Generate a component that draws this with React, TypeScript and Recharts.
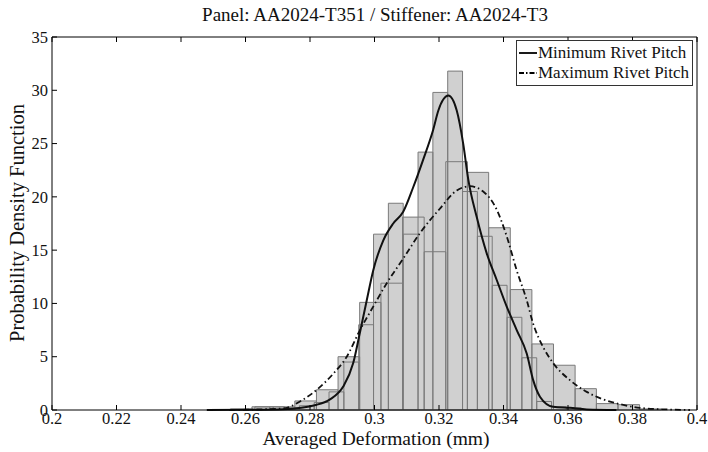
import React from 'react';
import { ComposedChart, Line, XAxis, YAxis, ReferenceArea, Label, Legend } from 'recharts';

const titleText = 'Panel: AA2024-T351 / Stiffener: AA2024-T3';
const xLabel = 'Averaged Deformation (mm)';
const yLabel = 'Probability Density Function';
const seriesNames = ['Minimum Rivet Pitch', 'Maximum Rivet Pitch'];

const xTicks = [0.2, 0.22, 0.24, 0.26, 0.28, 0.3, 0.32, 0.34, 0.36, 0.38, 0.4];
const yTicks = [0, 5, 10, 15, 20, 25, 30, 35];

// Histogram: Minimum Rivet Pitch (bin edges, heights)
const minBinEdges = [0.2629, 0.2675, 0.2721, 0.2767, 0.2813, 0.2859, 0.2905, 0.2951, 0.2997, 0.3043, 0.3089, 0.3135, 0.3181, 0.3227, 0.3273, 0.3319, 0.3365, 0.3411, 0.3457, 0.3503, 0.3549, 0.3595, 0.3641];
const minBinValues = [0.3, 0.3, 0.2, 0.4, 0.7, 1.7, 4.5, 8.0, 16.5, 19.4, 16.5, 24.2, 29.8, 31.8, 20.5, 16.3, 11.7, 8.7, 4.9, 0.8, 0.3, 0.2];

// Histogram: Maximum Rivet Pitch
const maxBinEdges = [0.2553, 0.262, 0.2686, 0.2753, 0.282, 0.2887, 0.2954, 0.302, 0.3087, 0.3154, 0.3221, 0.3288, 0.3354, 0.3421, 0.3488, 0.3555, 0.3622, 0.3688, 0.3755, 0.3822, 0.3889];
const maxBinValues = [0.1, 0.3, 0.3, 0.85, 1.9, 5.0, 10.1, 11.9, 18.1, 14.85, 23.3, 22.3, 17.1, 11.3, 6.2, 4.2, 2.0, 0.6, 0.5, 0.1];

// PDF curve: Minimum Rivet Pitch
const minCurveX = [0.248, 0.2614, 0.2716, 0.2821, 0.2862, 0.2903, 0.2934, 0.2955, 0.2976, 0.2996, 0.3027, 0.3058, 0.3089, 0.312, 0.3151, 0.3182, 0.3198, 0.3229, 0.3255, 0.3275, 0.3291, 0.3317, 0.3348, 0.3379, 0.341, 0.3441, 0.3472, 0.3492, 0.3513, 0.3554, 0.3606, 0.3658, 0.375];
const minCurveY = [0, 0.02, 0.08, 0.5, 1.0, 2.2, 4.4, 7.3, 10.3, 13.1, 15.9, 17.5, 18.6, 20.9, 23.5, 26.3, 28.1, 29.5, 28.1, 25.0, 21.6, 18.1, 14.7, 12.2, 9.7, 7.5, 5.3, 2.8, 1.25, 0.3, 0.2, 0.05, 0];

// PDF curve: Maximum Rivet Pitch
const maxCurveX = [0.255, 0.2717, 0.2769, 0.2821, 0.2872, 0.2914, 0.2955, 0.2996, 0.3038, 0.3089, 0.3141, 0.3203, 0.3255, 0.3296, 0.3337, 0.3379, 0.341, 0.3441, 0.3472, 0.3492, 0.3523, 0.3554, 0.3606, 0.3658, 0.3709, 0.3761, 0.3823, 0.3907, 0.3978];
const maxCurveY = [0, 0.15, 0.8, 1.9, 3.4, 5.0, 7.5, 9.7, 11.9, 14.2, 16.6, 18.9, 20.6, 21.0, 20.5, 18.8, 16.3, 13.1, 10.3, 8.1, 5.9, 4.4, 2.8, 1.7, 1.0, 0.55, 0.2, 0.05, 0];

const minCurve = minCurveX.map((x, i) => ({ x, y: minCurveY[i] }));
const maxCurve = maxCurveX.map((x, i) => ({ x, y: maxCurveY[i] }));
const toBins = (edges: number[], vals: number[]) => vals.map((v, i) => ({ x1: edges[i], x2: edges[i + 1], v }));
const allBins = [...toBins(maxBinEdges, maxBinValues), ...toBins(minBinEdges, minBinValues)];

const FONT = '"Liberation Serif", "Times New Roman", serif';
const TEXT = '#111';
const fmt = (v: number) => String(Number(v.toFixed(2)));

const XTick = (props: any) => {
  const { x, y, payload } = props;
  return (
    <text x={x} y={y} dy="0.72em" textAnchor="middle" fill={TEXT} style={{ fontFamily: FONT, fontSize: 16.5 }}>
      {fmt(payload.value)}
    </text>
  );
};

const YTick = (props: any) => {
  const { x, y, payload } = props;
  return (
    <text x={x} y={y} dy="0.35em" textAnchor="end" fill={TEXT} style={{ fontFamily: FONT, fontSize: 16.5 }}>
      {String(payload.value)}
    </text>
  );
};

const legendItems = [
  { label: seriesNames[0], dash: undefined as string | undefined },
  { label: seriesNames[1], dash: '5 2 1.5 2' },
];

const renderLegend = () => (
  <div
    style={{
      border: '1px solid #333',
      background: '#fff',
      width: 177,
      padding: '2px 2px',
      fontFamily: FONT,
      fontSize: 17,
      lineHeight: '20px',
      color: TEXT,
      boxSizing: 'border-box',
    }}
  >
    {legendItems.map((it) => (
      <div key={it.label} style={{ display: 'flex', alignItems: 'center', whiteSpace: 'nowrap' }}>
        <svg width={18} height={10} style={{ flex: 'none' }}>
          <line x1={0} y1={5} x2={18} y2={5} stroke="#000" strokeWidth={1.8} strokeDasharray={it.dash} />
        </svg>
        <span style={{ marginLeft: 1 }}>{it.label}</span>
      </div>
    ))}
  </div>
);

export default function App() {
  return (
    <div style={{ position: 'absolute', left: 0, top: 0, background: '#fff', fontFamily: FONT }}>
      <ComposedChart width={708} height={452} margin={{ top: 36, right: 10, left: 0, bottom: 0 }}>
        <XAxis
          xAxisId={0}
          dataKey="x"
          type="number"
          domain={[0.2, 0.4]}
          ticks={xTicks}
          allowDataOverflow
          height={42}
          stroke="#000"
          tickSize={-5}
          tickMargin={7}
          tick={XTick}
          interval={0}
        >
          <Label
            content={() => (
              <text x={376} y={445} textAnchor="middle" fill={TEXT} style={{ fontFamily: FONT, fontSize: 19.5 }}>
                {xLabel}
              </text>
            )}
          />
        </XAxis>
        <XAxis
          xAxisId="top"
          orientation="top"
          dataKey="x"
          type="number"
          domain={[0.2, 0.4]}
          ticks={xTicks}
          allowDataOverflow
          height={1}
          stroke="#000"
          tickSize={-5}
          tick={() => <g />}
          interval={0}
        >
          <Label
            content={() => (
              <text x={375} y={21} textAnchor="middle" fill={TEXT} style={{ fontFamily: FONT, fontSize: 19 }}>
                {titleText}
              </text>
            )}
          />
        </XAxis>
        <YAxis
          yAxisId={0}
          type="number"
          domain={[0, 35]}
          ticks={yTicks}
          width={52}
          stroke="#000"
          tickSize={-5}
          tickMargin={9}
          tick={YTick}
          interval={0}
        >
          <Label
            content={() => (
              <text
                x={24}
                y={223}
                transform="rotate(-90 24 223)"
                textAnchor="middle"
                fill={TEXT}
                style={{ fontFamily: FONT, fontSize: 20.5 }}
              >
                {yLabel}
              </text>
            )}
          />
        </YAxis>
        <YAxis
          yAxisId="right"
          orientation="right"
          type="number"
          domain={[0, 35]}
          ticks={yTicks}
          width={1}
          stroke="#000"
          tickSize={-5}
          tick={() => <g />}
          interval={0}
        />
        {allBins.map((b, i) => (
          <ReferenceArea
            key={'f' + i}
            x1={b.x1}
            x2={b.x2}
            y1={0}
            y2={b.v}
            fill="#d0d0d0"
            fillOpacity={1}
            stroke="none"
            ifOverflow="visible"
          />
        ))}
        {allBins.map((b, i) => (
          <ReferenceArea
            key={'s' + i}
            x1={b.x1}
            x2={b.x2}
            y1={0}
            y2={b.v}
            fill="none"
            fillOpacity={0}
            stroke="#7a7a7a"
            strokeWidth={1}
            ifOverflow="visible"
          />
        ))}
        <Line
          data={maxCurve}
          dataKey="y"
          type="monotone"
          stroke="#111"
          strokeWidth={1.8}
          strokeDasharray="6 3 1.5 3"
          dot={false}
          activeDot={false}
          isAnimationActive={false}
          name={seriesNames[1]}
        />
        <Line
          data={minCurve}
          dataKey="y"
          type="monotone"
          stroke="#111"
          strokeWidth={2}
          dot={false}
          activeDot={false}
          isAnimationActive={false}
          name={seriesNames[0]}
        />
        <Legend
          layout="vertical"
          align="center"
          verticalAlign="middle"
          content={renderLegend}
          wrapperStyle={{ left: 516, top: 40, width: 177 }}
        />
      </ComposedChart>
    </div>
  );
}
